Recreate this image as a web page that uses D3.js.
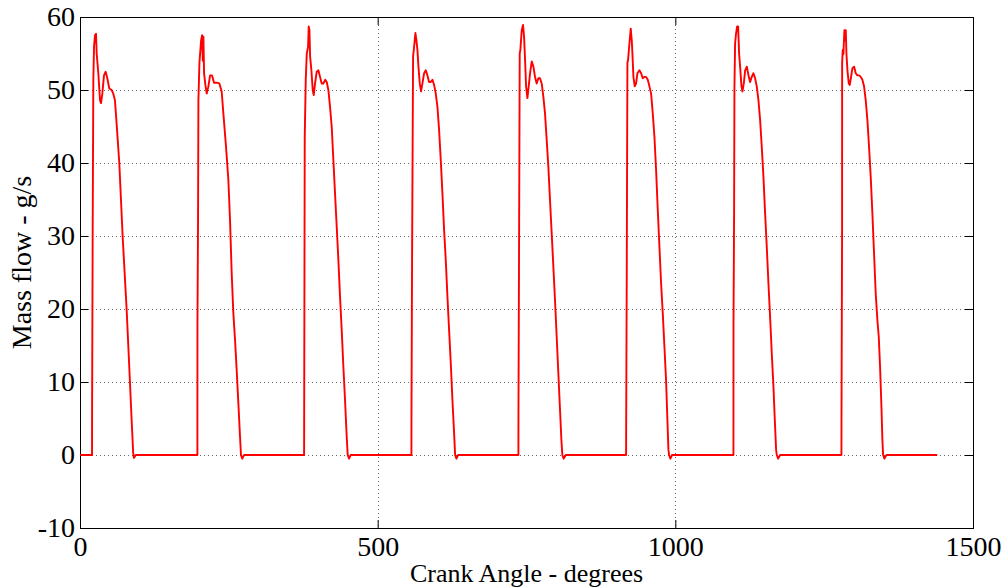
<!DOCTYPE html>
<html>
<head>
<meta charset="utf-8">
<script src="https://cdn.jsdelivr.net/npm/d3@7"></script>
<style>
  body { margin: 0; background: #fff; }
  svg { display: block; }
  text { font-family: "Liberation Serif", "Times New Roman", serif; fill: #000; }
</style>
</head>
<body>
<div id="chart"></div>
<script>
// x ticks / y ticks
const xTicks = [0, 500, 1000, 1500];
const yTicks = [-10, 0, 10, 20, 30, 40, 50, 60];

// one inlet pulse per cycle: [crank angle (deg), mass flow (g/s)]
const cycle1 = [[20.2,0],[20.3,5.5],[21.3,30.8],[22.4,51.4],[23.6,56],[25.2,57.5],[26.9,57.7],[28,55],[30.8,52.3],[33.6,48.6],[35.3,48.2],[37.5,49.5],[40.3,52],[43.1,52.5],[45.9,51.6],[49.2,50.2],[53.1,50],[55.9,49.5],[58.7,48.6],[61.5,45.4],[66,40],[71.6,30],[78.3,20],[83.9,10],[86.6,5],[89.4,0.2],[90.6,-0.4],[92.2,-0.2],[93.6,0]];
const cycle2 = [[197.2,0],[197.3,18],[198.3,32.6],[198.9,48.6],[200.6,53.7],[203.4,56.8],[205.1,57.5],[206.2,54],[207.3,57.3],[208.4,52.3],[210.6,50.7],[212.9,49.5],[215.7,50.5],[218.5,52],[221.8,52],[225.1,51],[229.6,51],[234.1,50.9],[238,49.8],[240.8,46.8],[245.3,42.2],[249.2,37.7],[252,32.2],[254.8,24.9],[257.6,19.4],[260.4,15.8],[263.2,11.6],[266,7.1],[268.8,2.5],[270.4,0],[272.6,-0.5],[275.5,0]];
const cycle3 = [[376.4,0],[376.5,2.5],[377.5,43.6],[379.2,51.4],[380.9,55],[383.1,55.9],[384.2,58.7],[385.4,58.2],[386.5,54.6],[388.7,52.7],[390.9,50],[392.6,49.3],[394.8,50.9],[397.6,52.5],[400.4,52.7],[403.2,51.8],[406,50.9],[408.8,50.9],[412.1,51.4],[414.4,51.1],[417.2,50],[420,47.7],[422.8,45],[425.6,40.4],[428.4,35.8],[431.2,31.3],[434,26.7],[436.8,21.7],[439.6,17.1],[442.4,12.1],[445.2,7.5],[448,2.5],[449.7,0],[451.9,-0.5],[454.7,0]];
const cycle4 = [[556.7,0],[556.8,5.7],[557.8,27],[559,46.8],[559.5,54.6],[561.2,55.9],[563.4,57.8],[565.1,56.8],[566.8,55.5],[568.5,53.2],[570.7,50.9],[572.9,49.8],[575.2,50.9],[578,52.3],[580.8,52.7],[583.6,52],[586.4,51.1],[589.2,51.1],[592,51.4],[594.8,50.7],[597.6,49.5],[600.4,47.7],[603.2,44.5],[606,40.4],[608.8,35.8],[611.6,30.8],[614.4,26.7],[617.2,21.7],[620,17.1],[622.8,12.6],[625.6,7.5],[628.4,3],[630.1,0],[632.3,-0.5],[635.1,0]];
const cycle5 = [[736.4,0],[736.5,5.5],[737.5,28.5],[738.6,55],[739.7,55.5],[742,58.2],[744.2,58.9],[745.9,57.3],[747.6,54.1],[749.3,50.5],[751.5,48.9],[753.7,50.5],[756,52.3],[758.8,53.9],[761.6,53.2],[764.3,51.8],[767.1,50.9],[769.9,51.6],[772.7,51.6],[775.5,50.9],[778.3,49.1],[781.1,46.8],[783.9,43.2],[786.7,39.5],[789.5,34.9],[792.3,30.4],[795.1,25.8],[797.9,21.2],[800.7,16.2],[803.5,11.2],[806.3,6.2],[808.6,2.1],[810.2,0],[812.5,-0.5],[815.9,0]];
const cycle6 = [[917.3,0],[917.4,3.4],[918.4,24.9],[919.5,53.7],[920.6,54.1],[922.9,56.4],[925.1,58.4],[926.8,56.8],[927.9,55],[929.6,51.8],[931.8,50.5],[934.1,50.9],[936.3,52.3],[939.7,52.7],[942.5,52.3],[945.3,51.6],[948.1,51.8],[950.9,51.8],[953.7,51.4],[956.5,50.5],[959.3,49.5],[962.1,46.8],[964.9,43.6],[967.7,39],[970.5,33.6],[973.3,28.5],[976.1,23.5],[978.9,19.4],[981.7,14.8],[984.4,10.3],[986.7,4.8],[988.4,0.7],[989.5,0],[991.7,-0.5],[994.5,0]];
const cycle7 = [[1097.6,0],[1097.7,17.6],[1098.7,33.1],[1099.3,50.5],[1100.4,56.4],[1102.1,57.8],[1103.8,58.7],[1105.5,58.7],[1107.1,55],[1108.8,53.2],[1111.1,50.5],[1112.8,49.8],[1115,50.9],[1117.3,52.7],[1120.1,53.2],[1122.9,52],[1125.6,51.1],[1128.4,51.8],[1131.2,52.3],[1134,51.6],[1136.8,50.5],[1139.6,48.6],[1142.4,45.9],[1145.2,42.2],[1148,38.1],[1150.8,33.1],[1153.6,28.5],[1156.4,23.5],[1159.2,18.9],[1162,13.9],[1164.8,9.4],[1167.1,4.8],[1169.3,0.7],[1170.4,0],[1172.7,-0.5],[1176,0]];
const cycle8 = [[1279,0],[1279.1,4.8],[1280.1,30.8],[1280.2,53.7],[1281.2,55.5],[1282.3,54.9],[1284,58.2],[1285.1,56.8],[1286.3,58.2],[1287.4,55],[1289.1,52.7],[1291.3,50.9],[1293,50.7],[1295.2,51.8],[1297.5,53],[1300.3,53.2],[1303,52.3],[1305.8,52],[1308.6,52],[1311.4,51.8],[1314.2,51.4],[1317,50.5],[1319.8,48.6],[1322.6,45.9],[1325.4,42.2],[1328.2,38.1],[1331,33.1],[1333.8,27.6],[1336.6,22.1],[1339.4,18.5],[1341.7,16.2],[1343.9,12.1],[1346.2,6.6],[1347.8,2.1],[1349,0],[1351.2,-0.5],[1354.6,0]];
const traceStart = [0, 0];
const traceEnd = [1440, 0];

const W = 1003, H = 588;
const margin = { top: 17, right: 30, bottom: 60, left: 80 };
const width = W - margin.left - margin.right;
const height = H - margin.top - margin.bottom;

const series = [traceStart, ...cycle1, ...cycle2, ...cycle3, ...cycle4,
  ...cycle5, ...cycle6, ...cycle7, ...cycle8, traceEnd];

const svg = d3.select('#chart').append('svg')
  .attr('width', W)
  .attr('height', H);

const g = svg.append('g')
  .attr('transform', `translate(${margin.left},${margin.top})`);

const x = d3.scaleLinear().domain([0, 1500]).range([0, width]);
const y = d3.scaleLinear().domain([-10, 60]).range([height, 0]);

// dotted grid
g.append('g').selectAll('line')
  .data(yTicks.filter(d => d > -10 && d < 60))
  .enter().append('line')
    .attr('x1', 0).attr('x2', width)
    .attr('y1', d => Math.round(y(d)) + 0.5).attr('y2', d => Math.round(y(d)) + 0.5)
    .attr('stroke', '#666')
    .attr('stroke-dasharray', '1,3');

g.append('g').selectAll('line')
  .data(xTicks.filter(d => d > 0 && d < 1500))
  .enter().append('line')
    .attr('x1', d => Math.round(x(d)) + 0.5).attr('x2', d => Math.round(x(d)) + 0.5)
    .attr('y1', 0).attr('y2', height)
    .attr('stroke', '#666')
    .attr('stroke-dasharray', '1,3');

// axes, ticks pointing inward like matlab; plain hyphen for negatives
const fmt = d => String(d);
const fontSize = '28px';
const yAxis = g.append('g')
  .call(d3.axisLeft(y).tickValues(yTicks).tickFormat(fmt)
    .tickSize(-8).tickSizeOuter(0).tickPadding(5));
const xAxis = g.append('g')
  .attr('transform', `translate(0,${height})`)
  .call(d3.axisBottom(x).tickValues(xTicks).tickFormat(fmt)
    .tickSize(-8).tickSizeOuter(0).tickPadding(8));
g.append('g')
  .attr('transform', `translate(${width},0)`)
  .call(d3.axisRight(y).tickValues(yTicks).tickSize(-8).tickSizeOuter(0).tickFormat(''));
g.append('g')
  .call(d3.axisTop(x).tickValues(xTicks).tickSize(-8).tickSizeOuter(0).tickFormat(''));

g.selectAll('.domain').remove();
g.selectAll('.tick line').attr('stroke', '#000');
[yAxis, xAxis].forEach(a => a.selectAll('text')
  .style('font-family', '"Liberation Serif", serif')
  .style('font-size', fontSize)
  .attr('fill', '#000'));

// frame
g.append('rect')
  .attr('x', 0.5).attr('y', 0.5)
  .attr('width', width).attr('height', height)
  .attr('fill', 'none')
  .attr('stroke', '#000');

// trace
const line = d3.line()
  .x(d => x(d[0]))
  .y(d => y(d[1]));

g.append('path')
  .datum(series)
  .attr('d', line)
  .attr('fill', 'none')
  .attr('stroke', '#ff0000')
  .attr('stroke-width', 1.9)
  .attr('stroke-linejoin', 'round');

// axis titles
svg.append('text')
  .attr('x', margin.left + width / 2)
  .attr('y', H - 6)
  .attr('text-anchor', 'middle')
  .style('font-size', '26px')
  .text('Crank Angle - degrees');

svg.append('text')
  .attr('transform', `translate(31,${margin.top + height / 2 - 10}) rotate(-90)`)
  .attr('text-anchor', 'middle')
  .style('font-size', '28px')
  .text('Mass flow - g/s');
</script>
</body>
</html>
